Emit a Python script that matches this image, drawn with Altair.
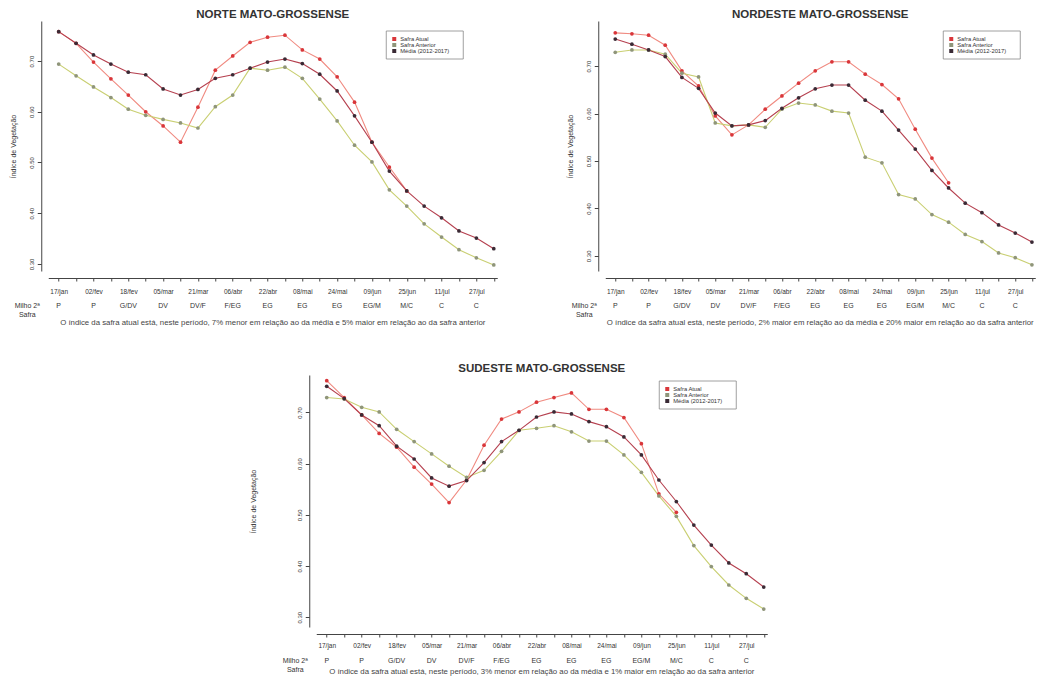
import altair as alt
import pandas as pd

dates = ["17/jan", "02/fev", "18/fev", "05/mar", "21/mar", "06/abr", "22/abr",
         "08/mai", "24/mai", "09/jun", "25/jun", "11/jul", "27/jul"]
stages = ["P", "P", "G/DV", "DV", "DV/F", "F/EG", "EG", "EG", "EG", "EG/M", "M/C", "C", "C"]
series = ["Safra Atual", "Safra Anterior", "Média (2012-2017)"]

norte_atual = [0.758, 0.735, 0.698, 0.665, 0.633, 0.600, 0.572, 0.540, 0.609, 0.682, 0.710,
               0.737, 0.747, 0.751, 0.722, 0.704, 0.669, 0.619, 0.540, 0.491, 0.444]
norte_anterior = [0.694, 0.671, 0.649, 0.628, 0.605, 0.593, 0.585, 0.578, 0.568, 0.610, 0.633,
                  0.686, 0.682, 0.688, 0.666, 0.625, 0.582, 0.534, 0.501, 0.446, 0.414,
                  0.379, 0.353, 0.328, 0.312, 0.298]
norte_media = [0.758, 0.735, 0.712, 0.694, 0.678, 0.673, 0.645, 0.633, 0.644, 0.666, 0.673,
               0.686, 0.698, 0.704, 0.695, 0.674, 0.641, 0.592, 0.540, 0.483, 0.444,
               0.414, 0.391, 0.365, 0.351, 0.330]

nordeste_atual = [0.770, 0.768, 0.765, 0.744, 0.690, 0.658, 0.595, 0.555, 0.576, 0.609, 0.637,
                  0.664, 0.690, 0.709, 0.709, 0.683, 0.661, 0.631, 0.567, 0.506, 0.454]
nordeste_anterior = [0.729, 0.734, 0.734, 0.725, 0.685, 0.677, 0.580, 0.574, 0.576, 0.571, 0.609,
                     0.622, 0.618, 0.605, 0.601, 0.508, 0.496, 0.429, 0.420, 0.387, 0.371,
                     0.345, 0.330, 0.306, 0.296, 0.281]
nordeste_media = [0.757, 0.746, 0.734, 0.720, 0.676, 0.653, 0.601, 0.574, 0.576, 0.585, 0.611,
                  0.633, 0.652, 0.660, 0.660, 0.628, 0.605, 0.565, 0.525, 0.480, 0.443,
                  0.411, 0.391, 0.365, 0.348, 0.329]

sudeste_atual = [0.762, 0.729, 0.695, 0.659, 0.632, 0.593, 0.560, 0.524, 0.568, 0.636, 0.687,
                 0.701, 0.720, 0.729, 0.738, 0.706, 0.706, 0.690, 0.639, 0.541, 0.505]
sudeste_anterior = [0.729, 0.726, 0.710, 0.701, 0.667, 0.643, 0.619, 0.595, 0.573, 0.587, 0.624,
                    0.665, 0.669, 0.674, 0.662, 0.644, 0.644, 0.617, 0.583, 0.537, 0.497,
                    0.440, 0.399, 0.363, 0.337, 0.316]
sudeste_media = [0.751, 0.727, 0.695, 0.674, 0.634, 0.609, 0.572, 0.556, 0.567, 0.602, 0.643,
                 0.665, 0.691, 0.701, 0.697, 0.682, 0.672, 0.652, 0.617, 0.568, 0.526,
                 0.480, 0.441, 0.406, 0.385, 0.359]

notes = {
    "norte": "O índice da safra atual está, neste período, 7% menor em relação ao da média e 5% maior em relação ao da safra anterior",
    "nordeste": "O índice da safra atual está, neste período, 2% maior em relação ao da média e 20% maior em relação ao da safra anterior",
    "sudeste": "O índice da safra atual está, neste período, 3% menor em relação ao da média e 1% maior em relação ao da safra anterior",
}

line_colors = ["#f08a80", "#c9cf72", "#b5404f"]
point_colors = ["#d9363a", "#8f957a", "#3a2a35"]
FONT = "Liberation Sans"

label_expr = "[" + ",".join("'%s'" % d for d in dates) + "]"
label_expr = "datum.value % 2 == 1 ? " + label_expr + "[(datum.value - 1) / 2] : ''"


def panel(title, atual, anterior, media, ydom, width, height, lx, ly, note,
          lab_pad=7, st_off=35, foot_off=52, title_pad=12):
    rows = []
    for name, vals in zip(series, [atual, anterior, media]):
        for i, v in enumerate(vals):
            rows.append({"idx": i + 1, "v": v, "serie": name, "linha": name})
    df = pd.DataFrame(rows)

    x_enc = alt.X("idx:Q",
                  scale=alt.Scale(domain=[0.4, 26.2], nice=False, zero=False),
                  axis=alt.Axis(values=list(range(1, 27)), labelExpr=label_expr, title=None,
                                offset=7, grid=False, tickSize=3, labelFontSize=6.5,
                                labelPadding=lab_pad, labelFont=FONT, labelColor="#333",
                                domainColor="#444", tickColor="#444", labelOverlap=False))
    y_enc = alt.Y("v:Q",
                  scale=alt.Scale(domain=ydom, nice=False, zero=False),
                  axis=alt.Axis(values=[0.3, 0.4, 0.5, 0.6, 0.7], format=".2f",
                                labelAngle=-90, labelAlign="center", labelBaseline="bottom",
                                offset=7, grid=False, tickSize=4, labelPadding=3,
                                labelFontSize=6, labelFont=FONT, labelColor="#333",
                                domainColor="#444", tickColor="#444",
                                title="Índice de Vegetação", titleFontSize=7,
                                titleFont=FONT, titleFontWeight="normal", titleColor="#333",
                                titlePadding=title_pad))

    base = alt.Chart(df)
    lines = base.mark_line(strokeWidth=1.1).encode(
        x=x_enc, y=y_enc,
        color=alt.Color("linha:N", scale=alt.Scale(domain=series, range=line_colors),
                        legend=None),
    )
    points = base.mark_point(filled=True, size=14, opacity=1).encode(
        x=x_enc, y=y_enc,
        fill=alt.Fill("serie:N", scale=alt.Scale(domain=series, range=point_colors),
                      legend=None),
    )
    st_df = pd.DataFrame({"idx": list(range(1, 27, 2)), "st": stages})
    stage_txt = alt.Chart(st_df).mark_text(fontSize=7, font=FONT, color="#333",
                                           baseline="middle").encode(
        x=x_enc, y=alt.value(height + st_off), text="st:N")
    milho = alt.Chart(pd.DataFrame({"t": ["Milho 2ª"]})).mark_text(
        text=["Milho 2ª", "Safra"], fontSize=7, font=FONT, color="#333",
        baseline="top", lineHeight=9, align="center").encode(
        x=alt.value(-21), y=alt.value(height + st_off - 4))
    foot = alt.Chart(pd.DataFrame({"t": [note]})).mark_text(
        fontSize=7.8, font=FONT, color="#444", baseline="middle", align="center").encode(
        x=alt.value(width / 2), y=alt.value(height + foot_off), text="t:N")

    # legend box (R-style, inside the plot, top right)
    layers = [lines, points, stage_txt, milho, foot]
    layers.append(alt.Chart(pd.DataFrame({"t": ["box"]})).mark_rect(
        fill="white", stroke="#888", strokeWidth=0.8).encode(
        x=alt.value(lx), x2=alt.value(lx + 77), y=alt.value(ly), y2=alt.value(ly + 28)))
    for i, name in enumerate(series):
        one = pd.DataFrame({"serie": [name]})
        layers.append(alt.Chart(one).mark_square(size=16, opacity=1,
                                                 color=point_colors[i]).encode(
            x=alt.value(lx + 8), y=alt.value(ly + 8 + 6 * i)))
        layers.append(alt.Chart(one).mark_text(fontSize=5.8, font=FONT, color="#333",
                                               align="left", baseline="middle").encode(
            x=alt.value(lx + 14), y=alt.value(ly + 8 + 6 * i), text="serie:N"))

    return alt.layer(*layers).properties(
        width=width, height=height,
        title=alt.TitleParams(title, fontSize=11.5, font=FONT, fontWeight="bold",
                              color="#333", offset=1, anchor="middle"))


p1 = panel("NORTE MATO-GROSSENSE", norte_atual, norte_anterior, norte_media,
           [0.286, 0.779], 449, 250, 338, 10, notes["norte"])
p2 = panel("NORDESTE MATO-GROSSENSE", nordeste_atual, nordeste_anterior, nordeste_media,
           [0.268, 0.795], 430, 250, 338, 10, notes["nordeste"])
p3 = panel("SUDESTE MATO-GROSSENSE", sudeste_atual, sudeste_anterior, sudeste_media,
           [0.281, 0.773], 451, 252, 343, 6, notes["sudeste"],
           lab_pad=5, st_off=34, foot_off=45, title_pad=40)

top = alt.hconcat(p1, p2, spacing=67).resolve_scale(
    x="independent", y="independent", color="independent", fill="independent")

chart = alt.vconcat(top, p3, spacing=34, center=True).resolve_scale(
    x="independent", y="independent", color="independent", fill="independent"
).properties(background="white", padding=0).configure_view(stroke="transparent")

chart.save("out.html", embed_options={"renderer": "svg", "actions": False})
